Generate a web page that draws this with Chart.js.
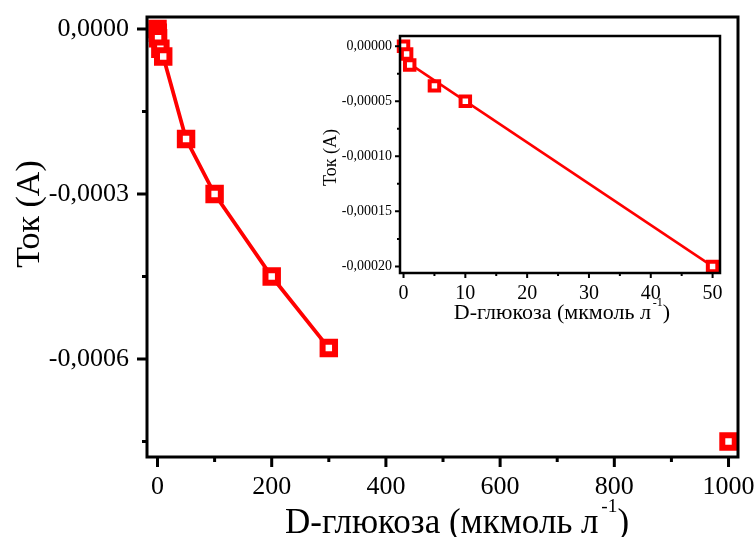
<!DOCTYPE html>
<html>
<head>
<meta charset="utf-8">
<script src="https://cdn.jsdelivr.net/npm/chart.js@4.4.0/dist/chart.umd.min.js"></script>
<style>
  body { margin: 0; background: #fff; }
  #wrap { position: relative; width: 755px; height: 537px; }
  #main { position: absolute; left: 0; top: 0; }
  #inset { position: absolute; left: 320px; top: 20px; }
</style>
</head>
<body>
<div id="wrap">
  <canvas id="main" width="755" height="537"></canvas>
  <canvas id="inset" width="435" height="320"></canvas>
</div>
<script>
'use strict';

// D-glucose, мкмоль/л  and  current, A
const glucose = [0, 0.5, 1, 5, 10, 50, 100, 200, 300];
const current = [0, -0.000007, -0.000017, -0.000036, -0.00005, -0.0002, -0.0003, -0.00045, -0.00058];

// saturation point, not joined to the curve
const glucoseHigh = [1000];
const currentHigh = [-0.00075];

// linear range shown in the inset, plus its fit line
const glucoseLow = glucose.slice(0, 6);
const currentLow = current.slice(0, 6);
const fitX = [1, 50];
const fitY = [-0.000016, -0.0002];

const mainXTicks = [0, 200, 400, 600, 800, 1000];
const mainXMinor = [100, 300, 500, 700, 900];
const mainYTicks = [0, -0.0003, -0.0006];
const mainYMinor = [-0.00015, -0.00045, -0.00075];

const insetXTicks = [0, 10, 20, 30, 40, 50];
const insetXMinor = [5, 15, 25, 35, 45];
const insetYTicks = [0, -0.00005, -0.0001, -0.00015, -0.0002];
const insetYMinor = [-0.000025, -0.000075, -0.000125, -0.000175];

const RED = '#ff0000';
const SERIF = '"Liberation Serif", "Times New Roman", serif';

const pts = (xs, ys) => xs.map((x, i) => ({ x, y: ys[i] }));
const fmt = (v, d) => (Math.abs(v) < 1e-12 ? 0 : v).toFixed(d).replace('.', ',');

// x title with the "-1" exponent
function drawUnitTitle(ctx, cx, baseline, size) {
    const main = 'D-глюкоза (мкмоль л';
    const sup = '-1';
    const supSize = size * 0.55;
    ctx.font = `${size}px ${SERIF}`;
    const w1 = ctx.measureText(main).width;
    const w3 = ctx.measureText(')').width;
    ctx.font = `${supSize}px ${SERIF}`;
    const w2 = ctx.measureText(sup).width;
    const gap = size * 0.08;
    const x0 = cx - (w1 + gap + w2 + w3) / 2;
    ctx.textAlign = 'left';
    ctx.textBaseline = 'alphabetic';
    ctx.font = `${size}px ${SERIF}`;
    ctx.fillText(main, x0, baseline);
    ctx.font = `${supSize}px ${SERIF}`;
    ctx.fillText(sup, x0 + w1 + gap, baseline - size * 0.6);
    ctx.font = `${size}px ${SERIF}`;
    ctx.fillText(')', x0 + w1 + gap + w2, baseline);
}

// frame, outward ticks and axis titles
const axisDecor = {
    id: 'axisDecor',
    afterDraw(chart, args, o) {
        const { ctx, chartArea: a, scales: { x, y } } = chart;
        ctx.save();
        ctx.strokeStyle = '#000';
        ctx.lineWidth = o.frame;
        ctx.strokeRect(a.left, a.top, a.right - a.left, a.bottom - a.top);

        ctx.lineWidth = o.tickWidth;
        ctx.beginPath();
        const xt = (vals, len) => vals.forEach(v => {
            const p = x.getPixelForValue(v);
            ctx.moveTo(p, a.bottom);
            ctx.lineTo(p, a.bottom + len);
        });
        const yt = (vals, len) => vals.forEach(v => {
            const p = y.getPixelForValue(v);
            ctx.moveTo(a.left, p);
            ctx.lineTo(a.left - len, p);
        });
        xt(o.xMajor, o.major);
        xt(o.xMinor, o.minor);
        yt(o.yMajor, o.major);
        yt(o.yMinor, o.minor);
        ctx.stroke();

        ctx.fillStyle = '#000';
        drawUnitTitle(ctx, o.xTitle.x, o.xTitle.y, o.xTitle.size);

        ctx.translate(o.yTitle.x, o.yTitle.y);
        ctx.rotate(-Math.PI / 2);
        ctx.font = `${o.yTitle.size}px ${SERIF}`;
        ctx.textAlign = 'center';
        ctx.textBaseline = 'middle';
        ctx.fillText('Ток (А)', 0, 0);
        ctx.restore();
    }
};

const axisBase = (min, max, ticks, fontSize, pad, size, cb, isX) => ({
    type: 'linear',
    min: min,
    max: max,
    afterBuildTicks: s => { s.ticks = ticks.map(v => ({ value: v })); },
    afterFit: s => {
        if (isX) s.height = size; else s.width = size;
        // labels may hang past the frame, no extra room for them
        s.paddingTop = s.paddingBottom = s.paddingLeft = s.paddingRight = 0;
    },
    grid: { display: false, drawTicks: false },
    border: { display: false },
    ticks: {
        font: { family: SERIF, size: fontSize },
        color: '#000',
        padding: pad,
        maxRotation: 0,
        autoSkip: false,
        callback: cb
    }
});

new Chart(document.getElementById('main'), {
    type: 'scatter',
    data: {
        datasets: [
            {
                data: pts(glucose, current),
                showLine: true,
                borderColor: RED,
                borderWidth: 3.8,
                pointStyle: 'rect',
                pointRadius: 8.8,
                pointBorderWidth: 6,
                pointBorderColor: RED,
                pointBackgroundColor: '#fff',
                clip: false
            },
            {
                data: pts(glucoseHigh, currentHigh),
                showLine: false,
                pointStyle: 'rect',
                pointRadius: 8.8,
                pointBorderWidth: 6,
                pointBorderColor: RED,
                pointBackgroundColor: '#fff',
                clip: false
            }
        ]
    },
    options: {
        responsive: false,
        animation: false,
        devicePixelRatio: 1,
        layout: { padding: { top: 17, right: 17, left: 0, bottom: 0 } },
        scales: {
            x: axisBase(-18.4, 1016.6, mainXTicks, 26, 15, 80, v => String(v), true),
            y: axisBase(-0.000778, 0.0000218, mainYTicks, 26, 18, 147, v => fmt(v, 4), false)
        },
        plugins: {
            legend: { display: false },
            tooltip: { enabled: false },
            axisDecor: {
                frame: 3, tickWidth: 3, major: 10, minor: 5,
                xMajor: mainXTicks, xMinor: mainXMinor,
                yMajor: mainYTicks, yMinor: mainYMinor,
                xTitle: { x: 457, y: 533, size: 35 },
                yTitle: { x: 30, y: 214, size: 34 }
            }
        }
    },
    plugins: [axisDecor]
});

new Chart(document.getElementById('inset'), {
    type: 'scatter',
    data: {
        datasets: [
            {
                data: pts(glucoseLow, currentLow),
                showLine: false,
                pointStyle: 'rect',
                pointRadius: 6.7,
                pointBorderWidth: 4,
                pointBorderColor: RED,
                pointBackgroundColor: '#fff',
                clip: false
            },
            {
                data: pts(fitX, fitY),
                showLine: true,
                borderColor: RED,
                borderWidth: 2.5,
                pointRadius: 0
            }
        ]
    },
    options: {
        responsive: false,
        animation: false,
        devicePixelRatio: 1,
        layout: { padding: { top: 16, right: 35, left: 0, bottom: 0 } },
        scales: {
            x: axisBase(-0.57, 51.2, insetXTicks, 20, 9, 67, v => String(v), true),
            y: axisBase(-0.000206, 0.0000093, insetYTicks, 14, 8, 80, v => fmt(v, 5), false)
        },
        plugins: {
            legend: { display: false },
            tooltip: { enabled: false },
            axisDecor: {
                frame: 2.5, tickWidth: 2, major: 5, minor: 3,
                xMajor: insetXTicks, xMinor: insetXMinor,
                yMajor: insetYTicks, yMinor: insetYMinor,
                xTitle: { x: 242, y: 299, size: 22 },
                yTitle: { x: 11, y: 137.5, size: 18 }
            }
        }
    },
    plugins: [axisDecor]
});
</script>
</body>
</html>
